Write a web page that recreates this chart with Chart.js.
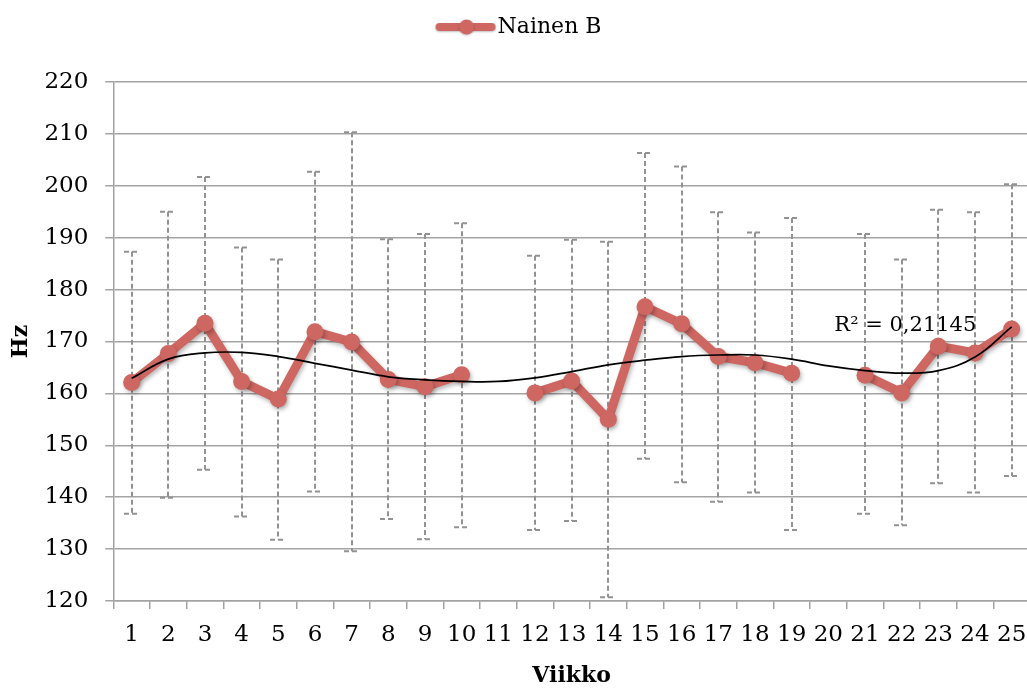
<!DOCTYPE html>
<html><head><meta charset="utf-8">
<script src="https://cdn.jsdelivr.net/npm/chart.js@4.4.1/dist/chart.umd.min.js"></script>
<style>html,body{margin:0;padding:0;background:#fff;overflow:hidden}</style>
</head><body>
<canvas id="c" width="1040" height="690"></canvas>
<script>
// ---- data ----
const weeks = ['1','2','3','4','5','6','7','8','9','10','11','12','13','14','15','16','17','18','19','20','21','22','23','24','25'];
const meanHz  = [162.1,167.7,173.5,162.3,158.9,171.9,169.9,162.7,161.3,163.6,null,160.1,162.4,155.0,176.7,173.4,167.1,165.9,163.9,null,163.5,160.1,169.1,167.8,172.4];
const upperHz = [187.3,195.0,201.7,188.1,185.8,202.7,210.3,189.7,190.7,192.8,null,186.5,189.6,189.2,206.3,203.7,194.9,191.0,193.8,null,190.7,185.8,195.4,194.9,200.3];
const lowerHz = [136.8,139.9,145.3,136.3,131.8,141.1,129.6,135.8,131.9,134.2,null,133.7,135.4,120.7,147.4,142.9,139.1,140.9,133.7,null,136.8,134.6,142.7,140.9,144.1];
const trendHz = [162.9,166.6,167.8,167.9,167.1,165.8,164.5,163.2,162.6,162.3,162.3,163.0,164.2,165.5,166.4,167.1,167.4,167.4,166.6,165.3,164.4,163.9,164.4,167.0,172.8];
const yMin = 120, yMax = 220, yStep = 10;
const seriesName = 'Nainen B';
const r2Text = 'R\u00B2 = 0,21145';
const xTitle = 'Viikko', yTitle = 'Hz';

const RED = '#CE6661';
const GRID = '#A3A3A3';
Chart.defaults.font.family = "'DejaVu Serif', serif";
Chart.defaults.font.size = 23;
Chart.defaults.color = '#000';

// legend marker: thick line with a dot
const leg = document.createElement('canvas');
leg.width = 80; leg.height = 22;
(function(){
  const g = leg.getContext('2d');
  g.shadowColor = 'rgba(0,0,0,0.25)'; g.shadowBlur = 2; g.shadowOffsetY = 1;
  g.strokeStyle = RED; g.fillStyle = RED; g.lineWidth = 8; g.lineCap = 'round';
  g.beginPath(); g.moveTo(18, 11); g.lineTo(70, 11); g.stroke();
  g.beginPath(); g.arc(45, 11, 7.5, 0, Math.PI*2); g.fill();
})();

const legendGap = {
  id: 'legendGap',
  beforeInit(chart) {
    const lg = chart.legend;
    const fit = lg.fit;
    lg.fit = function() { fit.call(this); this.height += 34; };
  }
};

const errorBars = {
  id: 'errorBars',
  beforeDatasetsDraw(chart) {
    const {ctx, scales: {x, y}} = chart;
    ctx.save();
    ctx.strokeStyle = '#929292';
    ctx.lineWidth = 2;
    ctx.setLineDash([5, 3]);
    weeks.forEach((w, i) => {
      if (upperHz[i] == null) return;
      const px = Math.round(x.getPixelForValue(i));
      const yt = y.getPixelForValue(upperHz[i]);
      const yb = y.getPixelForValue(lowerHz[i]);
      ctx.beginPath();
      ctx.moveTo(px, yt); ctx.lineTo(px, yb);
      ctx.moveTo(px - 8, yt); ctx.lineTo(px + 8, yt);
      ctx.moveTo(px - 8, yb); ctx.lineTo(px + 8, yb);
      ctx.stroke();
    });
    ctx.restore();
  }
};

const shadow = {
  id: 'shadow',
  beforeDatasetDraw(chart, args) {
    if (args.index !== 0) return;
    const ctx = chart.ctx;
    ctx.save();
    ctx.shadowColor = 'rgba(0,0,0,0.28)';
    ctx.shadowBlur = 4;
    ctx.shadowOffsetX = 1.5;
    ctx.shadowOffsetY = 2.5;
  },
  afterDatasetDraw(chart, args) {
    if (args.index !== 0) return;
    chart.ctx.restore();
  }
};

const r2Label = {
  id: 'r2Label',
  afterDatasetsDraw(chart) {
    const {ctx, scales: {x, y}} = chart;
    ctx.save();
    ctx.font = "21px 'DejaVu Serif'";
    ctx.fillStyle = '#000';
    ctx.textAlign = 'left';
    ctx.textBaseline = 'alphabetic';
    ctx.fillText(r2Text, x.getPixelForValue(19) + 6, y.getPixelForValue(170) - 11);
    ctx.restore();
  }
};

new Chart(document.getElementById('c'), {
  type: 'line',
  data: {
    labels: weeks,
    datasets: [
      {
        label: seriesName,
        data: meanHz,
        order: 1,
        borderColor: RED,
        backgroundColor: RED,
        borderWidth: 9,
        pointRadius: 8.5,
        pointHoverRadius: 8.5,
        pointBorderWidth: 0,
        pointBackgroundColor: RED,
        spanGaps: false,
        tension: 0,
        borderJoinStyle: 'round',
        borderCapStyle: 'round'
      },
      {
        label: 'trend',
        data: trendHz,
        order: 0,
        borderColor: '#000',
        borderWidth: 1.7,
        pointRadius: 0,
        tension: 0.4,
        fill: false
      }
    ]
  },
  options: {
    responsive: false,
    animation: false,
    devicePixelRatio: 1,
    layout: { padding: { left: 8, right: 10, top: 6, bottom: 1 } },
    plugins: {
      tooltip: { enabled: false },
      legend: {
        position: 'top',
        labels: {
          usePointStyle: true,
          pointStyle: leg,
          pointStyleWidth: 50,
          padding: 10,
          color: '#000',
          font: { size: 22 },
          filter: (item) => item.datasetIndex === 0
        }
      }
    },
    scales: {
      x: {
        type: 'category',
        offset: true,
        grid: { offset: true, drawOnChartArea: false, drawTicks: true, tickLength: 8, color: GRID, lineWidth: 1.5 },
        border: { color: GRID, width: 1.5 },
        ticks: { padding: 12, maxRotation: 0, autoSkip: false, color: '#000', font: { size: 23 } },
        title: { display: true, text: xTitle, color: '#000', font: { size: 22, weight: 'bold' }, padding: { top: 2, bottom: 0 } }
      },
      y: {
        min: yMin, max: yMax,
        ticks: { stepSize: yStep, padding: 17, color: '#000', font: { size: 23 } },
        grid: { color: GRID, lineWidth: 1.5, tickLength: 8 },
        border: { color: GRID, width: 1.5 },
        title: { display: true, text: yTitle, color: '#000', font: { size: 22, weight: 'bold' }, padding: { top: 0, bottom: -7 } }
      }
    }
  },
  plugins: [legendGap, errorBars, shadow, r2Label]
});
</script>
</body></html>
